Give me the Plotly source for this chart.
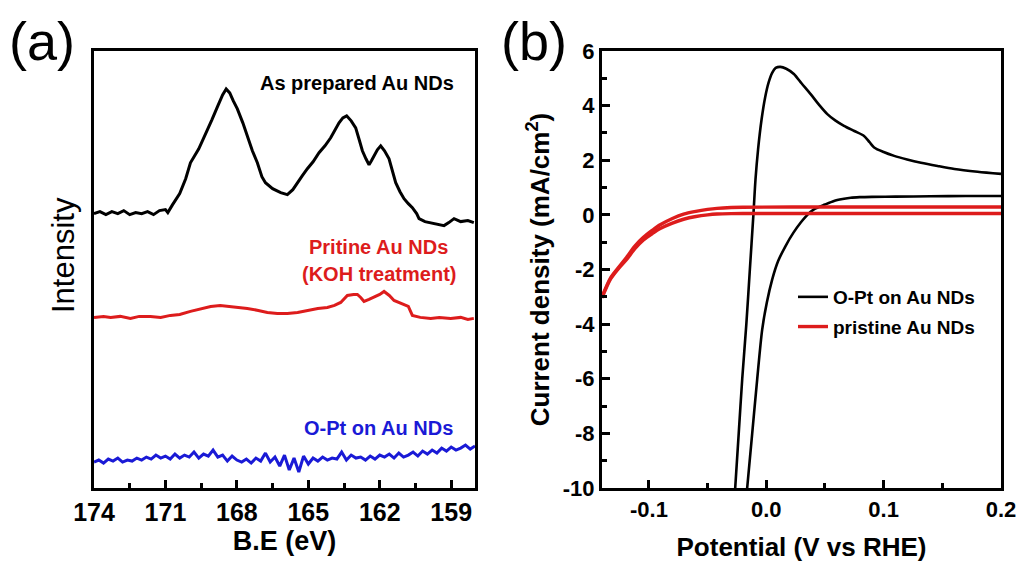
import plotly.graph_objects as go

# ---------------- Panel (a): XPS S 2p region ----------------
be_black = [174.0, 173.75, 173.5, 173.25, 173.0, 172.75, 172.5, 172.25, 172.0, 171.75, 171.5, 171.25,
            171.0, 170.9, 170.7, 170.4, 170.15, 169.95, 169.6, 169.3, 169.05, 168.8, 168.6, 168.45,
            168.3, 168.15, 167.98, 167.75, 167.56, 167.35, 167.14, 166.95, 166.8, 166.5, 166.16,
            165.88, 165.65, 165.46, 165.25, 165.04, 164.8, 164.55, 164.3, 164.06, 163.9, 163.71,
            163.55, 163.39, 163.2, 163.01, 162.85, 162.73, 162.58, 162.45, 162.35, 162.24, 162.1,
            161.96, 161.8, 161.61, 161.45, 161.33, 161.15, 160.98, 160.8, 160.63, 160.45, 160.35,
            160.1, 159.86, 159.6, 159.3, 159.1, 158.88, 158.6, 158.3, 158.05]
int_black = [275, 277, 274, 277, 275, 278, 274, 276, 275, 277, 274, 278,
             279, 276, 284, 295, 310, 326, 340, 355, 369, 383, 394, 400,
             396, 388, 380, 366, 353, 338, 326, 312, 306, 300, 296,
             294, 299, 306, 313, 320, 327, 336, 343, 351, 358, 366,
             371, 373, 368, 361, 348, 338, 330, 324, 328, 333, 339,
             343, 338, 330, 316, 306, 297, 290, 285, 281, 275, 270,
             267, 266, 265, 263, 266, 270, 267, 268, 266]

be_red = [174.0, 173.6, 173.3, 172.9, 172.47, 172.1, 171.63, 171.2, 170.79, 170.4, 169.95, 169.5,
          169.1, 168.7, 168.27, 167.9, 167.56, 167.1, 166.72, 166.3, 165.88, 165.45, 165.04,
          164.6, 164.2, 163.9, 163.64, 163.36, 163.1, 162.94, 162.8, 162.66, 162.45, 162.24,
          162.0, 161.82, 161.6, 161.4, 161.2, 160.98, 160.8, 160.63, 160.3, 159.86, 159.5,
          159.02, 158.6, 158.3, 158.05]
int_red = [171, 172, 171, 172, 170, 172, 172, 171, 173, 174, 177, 180,
           182, 183, 182, 181, 180, 178, 176, 175, 175, 176, 178,
           180, 181, 183, 186, 193, 194, 194, 191, 187, 189, 191,
           194, 197, 193, 188, 186, 183, 182, 173, 171, 170, 171,
           170, 171, 169, 170]

be_blue = [174.0, 173.8, 173.6, 173.4, 173.2, 173.0, 172.8, 172.6, 172.4, 172.2, 172.0, 171.8,
           171.6, 171.4, 171.2, 171.0, 170.8, 170.6, 170.4, 170.2, 170.0, 169.8, 169.6, 169.4,
           169.2, 169.0, 168.8, 168.6, 168.4, 168.2, 168.0, 167.8, 167.6, 167.4, 167.2, 167.0,
           166.8, 166.6, 166.4, 166.2, 166.0, 165.8, 165.6, 165.4, 165.2, 165.0, 164.8, 164.6,
           164.4, 164.2, 164.0, 163.8, 163.6, 163.4, 163.2, 163.0, 162.8, 162.6, 162.4, 162.2,
           162.0, 161.8, 161.6, 161.4, 161.2, 161.0, 160.8, 160.6, 160.4, 160.2, 160.0, 159.8,
           159.6, 159.4, 159.2, 159.0, 158.8, 158.6, 158.4, 158.2, 158.0]
int_blue = [26, 28, 25, 29, 27, 30, 26, 28, 27, 30, 28, 31,
            29, 33, 30, 32, 29, 34, 30, 33, 31, 36, 30, 34,
            32, 38, 31, 33, 27, 32, 28, 26, 29, 25, 30, 27,
            35, 26, 31, 22, 33, 18, 30, 16, 32, 24, 30, 27,
            31, 28, 30, 29, 36, 28, 33, 30, 31, 28, 32, 29,
            33, 31, 34, 30, 35, 31, 33, 36, 32, 37, 34, 38,
            35, 40, 37, 41, 38, 40, 43, 39, 42]

be_ticks = [174, 171, 168, 165, 162, 159]

# ---------------- Panel (b): CV curves ----------------
v_opt_fwd = [-0.0265, -0.0235, -0.0205, -0.017, -0.014, -0.011, -0.0092, -0.007, -0.004, -0.001,
             0.002, 0.005, 0.008, 0.012, 0.017, 0.0235, 0.030, 0.0378, 0.045, 0.052, 0.059,
             0.0662, 0.075, 0.0833, 0.088, 0.0919, 0.100, 0.109, 0.120, 0.1318, 0.146, 0.1603,
             0.180, 0.2]
j_opt_fwd = [-10.0, -8.0, -6.0, -4.0, -2.0, 0.0, 1.3, 2.4, 3.5, 4.3,
             4.85, 5.2, 5.38, 5.42, 5.35, 5.16, 4.82, 4.42, 4.03, 3.69, 3.45,
             3.26, 3.07, 2.89, 2.66, 2.47, 2.30, 2.16, 2.03, 1.91, 1.79, 1.68,
             1.58, 1.50]
v_opt_rev = [0.2, 0.17, 0.14, 0.11, 0.09, 0.08, 0.072, 0.065, 0.0577, 0.050, 0.0406, 0.035, 0.0292,
             0.023, 0.0164, 0.010, 0.005, 0.0005, -0.0035, -0.0078, -0.012, -0.0163]
j_opt_rev = [0.69, 0.69, 0.68, 0.67, 0.66, 0.65, 0.63, 0.58, 0.51, 0.38, 0.2, 0.0, -0.29,
             -0.66, -1.14, -1.70, -2.37, -3.20, -4.2, -6.04, -8.0, -10.0]

v_au_lo = [-0.14, -0.133, -0.126, -0.119, -0.112, -0.1047, -0.097, -0.0904, -0.080, -0.0705,
           -0.060, -0.050, -0.042, -0.03, -0.02, 0.05, 0.2]
j_au_lo = [-3.04, -2.37, -1.97, -1.63, -1.24, -0.92, -0.68, -0.50, -0.30, -0.16,
           -0.06, 0.0, 0.03, 0.045, 0.05, 0.05, 0.05]
v_au_hi = [0.2, 0.05, -0.02, -0.03, -0.042, -0.050, -0.060, -0.0705, -0.080, -0.0904, -0.097,
           -0.1047, -0.112, -0.119, -0.126, -0.133, -0.14]
j_au_hi = [0.29, 0.29, 0.28, 0.27, 0.24, 0.20, 0.13, 0.03, -0.13, -0.36, -0.56,
           -0.82, -1.14, -1.55, -1.93, -2.33, -3.0]

v_ticks = [-0.1, 0.0, 0.1, 0.2]
v_ticktext = ["-0.1", "0.0", "0.1", "0.2"]
j_ticks = [-10, -8, -6, -4, -2, 0, 2, 4, 6]
j_ticktext = ["-10", "-8", "-6", "-4", "-2", "0", "2", "4", "6"]

FONT = "Arial, Liberation Sans, sans-serif"
BLACK = "#000000"
RED = "#dd1c1c"
BLUE = "#1a1ad6"

# page body has an 8px margin; work in screen pixels and convert
OFF = 8
W, H = 1024, 557


def fx(px):
    return (px - OFF) / W


def fy(py):
    return (H - (py - OFF)) / H


fig = go.Figure()

fig.add_trace(go.Scatter(x=be_black, y=int_black, mode="lines", line=dict(color=BLACK, width=3),
                         xaxis="x", yaxis="y", showlegend=False))
fig.add_trace(go.Scatter(x=be_red, y=int_red, mode="lines", line=dict(color=RED, width=3),
                         xaxis="x", yaxis="y", showlegend=False))
fig.add_trace(go.Scatter(x=be_blue, y=int_blue, mode="lines", line=dict(color=BLUE, width=3),
                         xaxis="x", yaxis="y", showlegend=False))

fig.add_trace(go.Scatter(x=v_opt_fwd + [None] + v_opt_rev, y=j_opt_fwd + [None] + j_opt_rev,
                         mode="lines", line=dict(color=BLACK, width=2.6, shape="spline", smoothing=0.8),
                         connectgaps=False,
                         xaxis="x2", yaxis="y2", name="O-Pt on Au NDs", legendgroup="a"))
fig.add_trace(go.Scatter(x=v_au_lo + [None] + v_au_hi, y=j_au_lo + [None] + j_au_hi,
                         mode="lines", line=dict(color=RED, width=3.4, shape="spline", smoothing=0.8),
                         connectgaps=False,
                         xaxis="x2", yaxis="y2", name="pristine Au NDs", legendgroup="b"))

ax_common = dict(showline=True, linewidth=3, linecolor=BLACK, mirror=True, showgrid=False,
                 zeroline=False, ticks="inside", ticklen=8, tickwidth=3, tickcolor=BLACK,
                 automargin=False)

y0, y1 = fy(488), fy(51)

fig.update_layout(
    width=W, height=H,
    paper_bgcolor="white", plot_bgcolor="white",
    margin=dict(l=0, r=0, t=0, b=0, autoexpand=False),
    font=dict(family=FONT, color=BLACK),
    xaxis=dict(domain=[fx(94), fx(475)], range=[174, 158], anchor="y",
               tickvals=be_ticks, ticktext=[str(t) for t in be_ticks],
               tickfont=dict(size=25, weight="bold"),
               minor=dict(dtick=1.5, tick0=0, ticks="inside", ticklen=5, tickwidth=3, tickcolor=BLACK),
               title=dict(text="B.E (eV)", font=dict(size=27, weight="bold"), standoff=6),
               **ax_common),
    yaxis=dict(domain=[y0, y1], range=[0, 438], anchor="x", showticklabels=False,
               showline=True, linewidth=3, linecolor=BLACK, mirror=True, showgrid=False,
               zeroline=False, ticks="", automargin=False),
    xaxis2=dict(domain=[fx(602), fx(1001)], range=[-0.14, 0.2], anchor="y2",
                tickvals=v_ticks, ticktext=v_ticktext,
                tickfont=dict(size=22, weight="bold"),
                minor=dict(dtick=0.05, tick0=0, ticks="inside", ticklen=5, tickwidth=3, tickcolor=BLACK),
                title=dict(text="Potential (V vs RHE)", font=dict(size=26, weight="bold"), standoff=17),
                **ax_common),
    yaxis2=dict(domain=[y0, y1], range=[-10, 6], anchor="x2",
                tickvals=j_ticks, ticktext=j_ticktext,
                tickfont=dict(size=22, weight="bold"),
                minor=dict(dtick=1, tick0=0, ticks="inside", ticklen=5, tickwidth=3, tickcolor=BLACK),
                title=dict(text="Current density (mA/cm<sup>2</sup>)", font=dict(size=26, weight="bold"),
                           standoff=6),
                **ax_common),
    legend=dict(x=fx(793), y=fy(278), xanchor="left", yanchor="top",
                bgcolor="rgba(0,0,0,0)", borderwidth=0, tracegroupgap=2,
                font=dict(size=19, weight="bold", color=BLACK)),
)

annotations = [
    dict(text="(a)", x=fx(42), y=fy(41), font=dict(size=54)),
    dict(text="(b)", x=fx(534), y=fy(41), font=dict(size=54)),
    dict(text="Intensity", x=fx(63), y=fy(255), textangle=-90, font=dict(size=31)),
    dict(text="As prepared Au NDs", x=fx(357), y=fy(83),
         font=dict(size=20, weight="bold", color=BLACK)),
    dict(text="Pritine Au NDs", x=fx(378), y=fy(247),
         font=dict(size=20, weight="bold", color=RED)),
    dict(text="(KOH treatment)", x=fx(379), y=fy(274),
         font=dict(size=20, weight="bold", color=RED)),
    dict(text="O-Pt on Au NDs", x=fx(378), y=fy(428),
         font=dict(size=20, weight="bold", color=BLUE)),
]
for a in annotations:
    fig.add_annotation(xref="paper", yref="paper", showarrow=False, xanchor="center",
                       yanchor="middle", **a)

fig.write_html("out.html")
